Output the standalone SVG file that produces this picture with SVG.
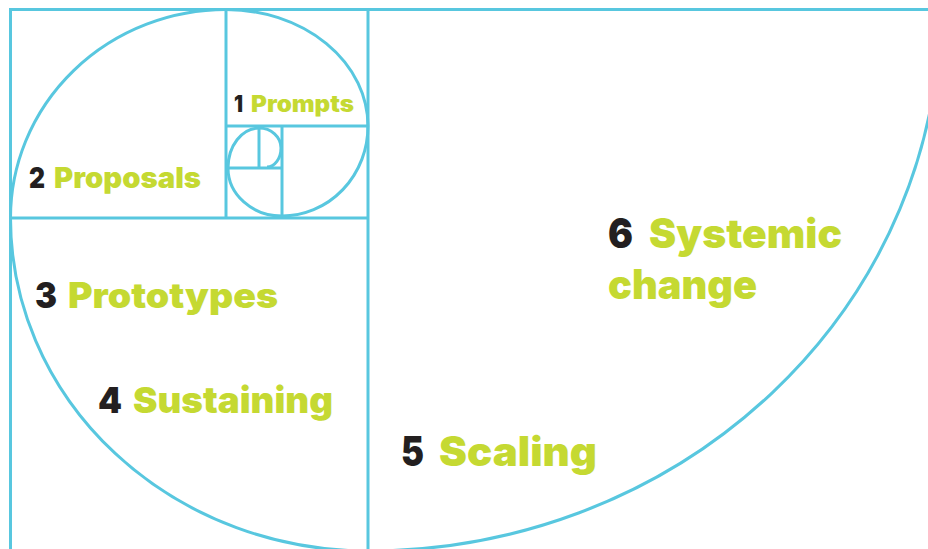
<svg xmlns="http://www.w3.org/2000/svg" width="928" height="549" viewBox="0 0 928 549">
<style>
.ln{fill:none;stroke:#58c7df;stroke-width:3;stroke-linecap:butt}
.arc{fill:none;stroke:#58c7df;stroke-width:3}
.t{font-family:Inter,"Open Sans","Liberation Sans",sans-serif;font-weight:900}
.n{fill:#231f20}
.w{fill:#c5d932}
</style>
<rect width="928" height="549" fill="#ffffff"/>
<g id="grid">
<path class="ln" d="M10.5,549 V9.5 H928"/>
<path class="ln" d="M368,9.5 V549"/>
<path class="ln" d="M10.5,218 H368"/>
<path class="ln" d="M226,9.5 V218"/>
<path class="ln" d="M226,126 H368"/>
<path class="ln" d="M282,126 V218"/>
<path class="ln" d="M226,168 H282"/>
<path class="ln" d="M259,126 V168"/>
</g>
<g id="spiral">
<path class="arc" d="M368,551 A572,541 0 0 0 940,10"/>
<path class="arc" d="M10.5,218 A357.5,333 0 0 0 368,551"/>
<path class="arc" d="M10.5,218 A215.5,208.5 0 0 1 226,9.5"/>
<path class="arc" d="M226,9.5 A142,116.5 0 0 1 368,126"/>
<path class="arc" d="M368,126 A86,90 0 0 1 282,216"/>
<path class="arc" d="M282,216 A54,48 0 0 1 228,168"/>
<path class="arc" d="M228,168 A31,40 0 0 1 259,128"/>
<path class="arc" d="M259,128 A22,20 0 0 1 281,148"/>
<path class="arc" d="M281,148 A14,19 0 0 1 267,167"/>
</g>
<g id="node1">
<text class="t n" x="234" y="111.5" font-size="22.5" textLength="9" lengthAdjust="spacingAndGlyphs">1</text>
<text class="t w" x="251" y="111.5" font-size="22.5" textLength="103" lengthAdjust="spacingAndGlyphs">Prompts</text>
</g>
<g id="node2">
<text class="t n" x="29" y="188.3" font-size="29" textLength="16" lengthAdjust="spacingAndGlyphs">2</text>
<text class="t w" x="54" y="188.3" font-size="29" textLength="147" lengthAdjust="spacingAndGlyphs">Proposals</text>
</g>
<g id="node3">
<text class="t n" x="35" y="308" font-size="35" textLength="22" lengthAdjust="spacingAndGlyphs">3</text>
<text class="t w" x="68" y="308" font-size="35" textLength="210" lengthAdjust="spacingAndGlyphs">Prototypes</text>
</g>
<g id="node4">
<text class="t n" x="98" y="413" font-size="36" textLength="24" lengthAdjust="spacingAndGlyphs">4</text>
<text class="t w" x="133" y="413" font-size="36" textLength="200" lengthAdjust="spacingAndGlyphs">Sustaining</text>
</g>
<g id="node5">
<text class="t n" x="401" y="465.5" font-size="41" textLength="23" lengthAdjust="spacingAndGlyphs">5</text>
<text class="t w" x="439" y="465.5" font-size="41" textLength="158" lengthAdjust="spacingAndGlyphs">Scaling</text>
</g>
<g id="node6">
<text class="t n" x="608" y="248" font-size="41" textLength="25" lengthAdjust="spacingAndGlyphs">6</text>
<text class="t w" x="649" y="248" font-size="41" textLength="193" lengthAdjust="spacingAndGlyphs">Systemic</text>
<text class="t w" x="608" y="299" font-size="41" textLength="149" lengthAdjust="spacingAndGlyphs">change</text>
</g>
</svg>
